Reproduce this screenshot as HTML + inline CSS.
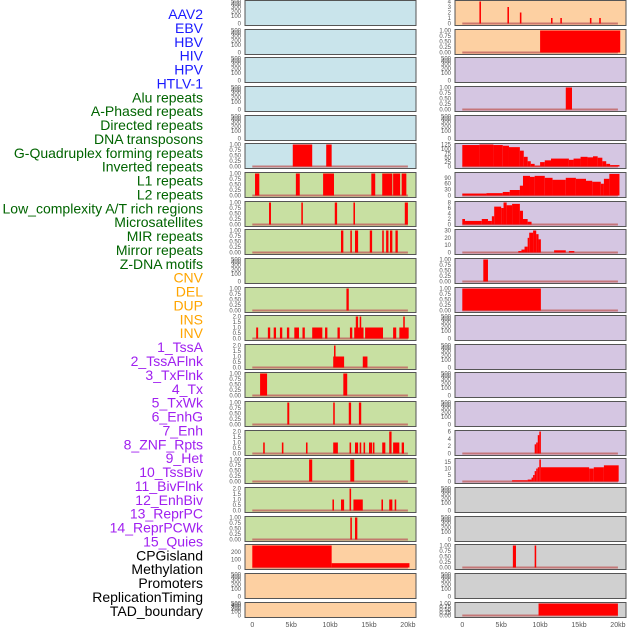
<!DOCTYPE html>
<html><head><meta charset="utf-8"><style>
body{margin:0;background:#fff;width:630px;height:630px;overflow:hidden}
svg{font-family:"Liberation Sans",sans-serif}
</style></head><body>
<svg id="c" width="630" height="630"></svg>
<script>
const labels=["AAV2","EBV","HBV","HIV","HPV","HTLV-1","Alu repeats","A-Phased repeats","Directed repeats","DNA transposons","G-Quadruplex forming repeats","Inverted repeats","L1 repeats","L2 repeats","Low_complexity A/T rich regions","Microsatellites","MIR repeats","Mirror repeats","Z-DNA motifs","CNV","DEL","DUP","INS","INV","1_TssA","2_TssAFlnk","3_TxFlnk","4_Tx","5_TxWk","6_EnhG","7_Enh","8_ZNF_Rpts","9_Het","10_TssBiv","11_BivFlnk","12_EnhBiv","13_ReprPC","14_ReprPCWk","15_Quies","CPGisland","Methylation","Promoters","ReplicationTiming","TAD_boundary"];
const labelColors=["#1a1aff","#006400","#ffa500","#a020f0","#000"];
const groupSizes=[6,13,5,15,5];
const xTicks=[0,5,10,15,20];
const xTickLabels=["0","5kb","10kb","15kb","20kb"];
const emptyTicks=[0,100,200,300,400,500];
const t01=[0,0.25,0.5,0.75,1], l01=["0.00","0.25","0.50","0.75","1.00"];
const t02=[0,0.5,1,1.5,2], l02=["0.0","0.5","1.0","1.5","2.0"];
// segments [startKb,endKb,value]
const L5=[[5.2,7.7,1],[9.5,10.2,1]];
const L6=[[0.35,0.9,1],[5.6,6.1,1],[9.1,10.5,1],[15.3,15.8,1],[16.7,18,1],[18.1,19,1],[19.2,19.8,1]];
const L7=[[2.15,2.4,1],[6.3,6.5,1],[10.6,10.9,1],[13,13.2,1],[19.6,20,1]];
const L8=[[11.4,11.7,1],[12.6,12.8,1],[13.2,13.6,1],[15.1,15.4,1],[16.7,16.9,1],[17.2,17.5,1],[17.7,18,1],[18.4,18.7,1]];
const L10=[[12.1,12.4,1]];
const L11=[[0.5,0.75,1],[2.0,2.3,1],[2.75,3.05,1],[3.55,3.85,1],[4.45,4.75,1],[5.4,6.0,1],[6.45,6.75,1],[7.7,9.0,1],[9.35,9.65,1],[10.95,11.25,1],[12.55,12.85,1],[13.1,14.3,1],[13.3,13.6,2],[13.8,14.0,2],[14.5,16.8,1],[18.1,18.5,1],[18.9,20.1,1],[19.4,19.6,2]];
const L12=[[10.4,11.8,1],[10.5,10.7,2],[14.2,14.8,1]];
const L13=[[1.0,1.9,1],[11.7,12.2,1]];
const L14=[[4.5,4.75,1],[10.4,10.6,1],[12.4,12.7,1],[13.7,14.0,1]];
const L15=[[1.4,1.6,1],[3.8,4.0,1],[6.9,7.1,1],[10.4,11.0,1],[12.5,12.7,1],[13.2,13.6,1],[13.8,14.0,1],[14.3,14.5,1],[15.0,15.4,1],[15.5,15.7,1],[16.7,17.1,1],[17.6,17.9,2],[18.1,18.9,1],[19.2,19.5,1]];
const L16=[[7.3,7.7,1],[12.6,13.1,1]];
const L17=[[10.3,10.5,1],[11.4,11.8,1],[12.5,12.7,2],[13.0,14.2,1],[16.6,16.8,1],[17.6,18.0,1],[18.3,18.5,1]];
const L18=[[12.6,12.8,1],[13.2,13.5,1]];
const L19=[[0,10.2,280],[10.2,20.2,55]];
const R0=[[2.2,2.4,4],[5.8,6.0,3],[7.4,7.6,2],[11.4,11.6,1],[12.6,12.8,1],[16.4,16.6,1],[17.6,17.8,1]];
const R1=[[10.0,20.3,1]];
const R3=[[13.3,14.1,1]];
const R5=[[0,2.2,122],[2.2,4.0,125],[4.0,5.2,122],[5.2,6.0,118],[6.0,7.4,110],[7.4,7.9,90],[7.9,8.4,55],[8.4,8.8,30],[8.8,9.3,15],[9.3,10.0,5],[10.0,10.6,25],[10.6,11.4,35],[11.4,13.7,45],[13.7,14.3,38],[14.3,15.2,45],[15.2,16.1,55],[16.1,16.8,52],[16.8,17.4,58],[17.4,18.0,50],[18.0,18.5,30],[18.5,19.0,15],[19.0,20.2,8]];
const R6=[[0,3.1,10],[3.1,5.2,12],[5.2,6.1,18],[6.1,7.4,28],[7.4,7.8,50],[7.8,8.7,100],[8.7,9.3,95],[9.3,10.6,100],[10.6,11.6,90],[11.6,13.3,80],[13.3,14.6,90],[14.6,15.9,85],[15.9,16.7,75],[16.7,17.8,70],[17.8,18.2,60],[18.2,18.9,85],[18.9,20.2,110]];
const R7=[[0,0.35,2],[0.35,2.5,1.3],[2.5,3.3,2],[3.3,3.8,1.3],[3.8,4.1,3],[4.1,5.0,6.5],[5.0,5.3,6],[5.3,5.7,8],[5.7,6.4,7],[6.4,7.4,7.5],[7.4,7.8,5],[7.8,8.4,2],[8.4,8.9,1]];
const R8=[[7.2,7.6,2],[7.6,8.0,4],[8.0,8.4,8],[8.4,8.6,20],[8.6,9.1,27],[9.1,9.5,30],[9.5,9.8,25],[9.8,10.1,18],[11.8,13.3,3],[13.7,14.4,2]];
const R9=[[2.7,3.3,1]];
const R10=[[0,10.1,1]];
const R15=[[9.3,9.5,2.5],[9.5,9.7,3],[9.7,9.9,5],[9.9,10.1,6]];
const R16=[[6.4,8.4,1],[8.4,8.9,1.5],[8.9,9.1,3],[9.1,9.3,5],[9.3,9.5,8],[9.5,9.7,10],[9.7,9.9,11],[9.9,10.1,17],[10.1,16.3,11],[16.3,16.9,10],[16.9,18.2,11],[18.2,20.1,12.5]];
const R19=[[6.5,6.9,1],[9.3,9.5,1]];
const R21=[[9.8,20,1]];

const bgBlue="#c9e4eb",bgGreen="#c8e0a2",bgOrange="#fdd0a2",bgPurple="#d5c6e2",bgGray="#d0d0d0";
function cfg(seg,ticks,tl,ymax){return {seg,ticks,tl,ymax};}
const E=null;
const left=[E,E,E,E,E,cfg(L5,t01,l01,1),cfg(L6,t01,l01,1),cfg(L7,t01,l01,1),cfg(L8,t01,l01,1),E,cfg(L10,t01,l01,1),cfg(L11,t02,l02,2),cfg(L12,t02,l02,2),cfg(L13,t01,l01,1),cfg(L14,t01,l01,1),cfg(L15,t02,l02,2),cfg(L16,t01,l01,1),cfg(L17,t02,l02,2),cfg(L18,t01,l01,1),cfg(L19,[0,100,200],["0","100","200"],280),E,E];
const right=[cfg(R0,[0,1,2,3,4],["0","1","2","3","4"],4),cfg(R1,t01,l01,1),E,cfg(R3,t01,l01,1),E,cfg(R5,[0,25,50,75,100,125],["0","25","50","75","100","125"],125),cfg(R6,[0,30,60,90],["0","30","60","90"],112),cfg(R7,[0,2,4,6,8],["0","2","4","6","8"],8),cfg(R8,[0,10,20,30],["0","10","20","30"],30),cfg(R9,t01,l01,1),cfg(R10,t01,l01,1),E,E,E,E,cfg(R15,[0,2,4,6],["0","2","4","6"],6),cfg(R16,[0,5,10,15],["0","5","10","15"],17),E,E,cfg(R19,t01,l01,1),E,cfg(R21,t01,l01,1)];
const leftBg=i=>i<6?bgBlue:(i<19?bgGreen:bgOrange);
const rightBg=i=>i<2?bgOrange:(i<17?bgPurple:bgGray);

const svg=document.getElementById('c');
const NS="http://www.w3.org/2000/svg";
function mk(tag,attrs,parent){const e=document.createElementNS(NS,tag);for(const k in attrs)e.setAttribute(k,attrs[k]);(parent||svg).appendChild(e);return e;}

// labels
let gi=0,cnt=0;
labels.forEach((t,i)=>{
  const el=mk('text',{x:203,y:14+i*13.88+5,'text-anchor':'end','font-size':14,fill:labelColors[gi]});
  el.textContent=t;
  
  
  cnt++;if(cnt>=groupSizes[gi]){gi++;cnt=0;}
});

function drawCol(panels,bgf,px0,px1,x0,kbPx,colName){
  panels.forEach((p,i)=>{
    const top=Math.round(i*28.65)+0.5, h=(i==21?15:25);
    const g=mk('g',{});
    
    
    mk('rect',{x:px0,y:top,width:px1-px0,height:h,fill:bgf(i),stroke:'#555','stroke-width':1},g);
    const base=top+h-2, yt=top+1;
    const sx=k=>x0+k*kbPx;
    if(!p){
      const fr=[0,0.33,0.55,0.74,0.89,0.99];
      emptyTicks.forEach((v,j)=>{
        const t=mk('text',{x:px0-4,y:base-fr[j]*(base-yt)+2,'text-anchor':'end','font-size':6,fill:'#555'},g);
        t.textContent=v;
      });
      return;
    }
    const sy=v=>base-v/p.ymax*(base-yt);
    p.ticks.forEach((v,j)=>{
      const t=mk('text',{x:px0-4,y:sy(v)+2,'text-anchor':'end','font-size':6,fill:'#555'},g);
      t.textContent=p.tl[j];
    });
    mk('rect',{x:sx(0),y:base-1,width:sx(20)-sx(0),height:2,fill:'#c06060',opacity:0.8},g);
    p.seg.forEach(s=>{
      const r=mk('rect',{x:sx(s[0]),y:sy(s[2]),width:Math.max(1.5,sx(s[1])-sx(s[0])),height:base-sy(s[2]),fill:'#ff0000'},g);
      
      
    });
  });
  xTicks.forEach((v,j)=>{
    const t=mk('text',{x:x0+v*kbPx,y:627,'text-anchor':'middle','font-size':7,fill:'#555'});
    t.textContent=xTickLabels[j];
    
    
  });
}
drawCol(left,leftBg,245,416,252.3,7.78,'left');
drawCol(right,rightBg,455,626,462.3,7.78,'right');
</script>
</body></html>
